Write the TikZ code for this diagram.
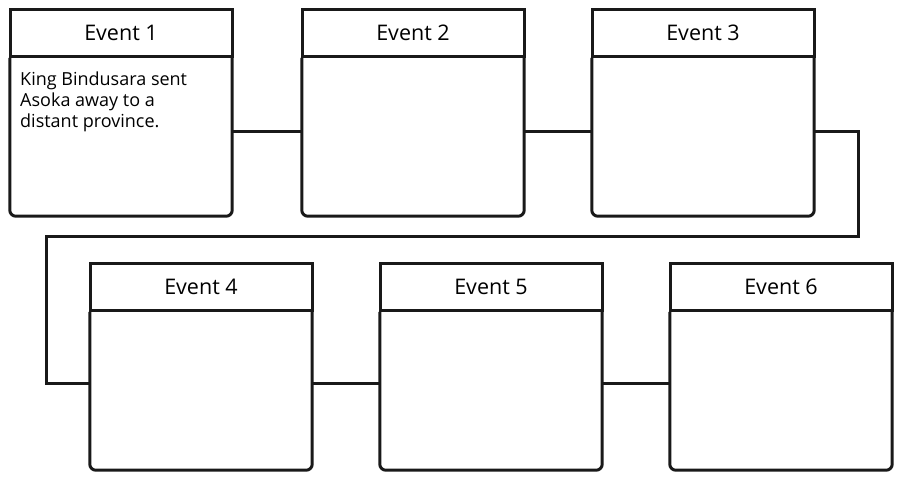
\documentclass[tikz,border=0pt]{standalone}
\usepackage{fontspec}
\setmainfont{Open Sans}
\begin{document}
\begin{tikzpicture}[x=1pt,y=1pt,
  ln/.style={line width=3pt,draw=black!90},
  hdr/.style={ln,minimum width=222pt,minimum height=47pt,inner sep=0pt,font=\fontsize{21.5}{25}\selectfont},
  bodyn/.style={minimum width=222pt,minimum height=158pt,inner sep=0pt,draw=none},
  conn/.style={ln,line join=miter}]
\useasboundingbox (0,0) rectangle (900,480);
% row 1
\node[bodyn] (e1) at (121,343) {};
\node[bodyn] (e2) at (413,343) {};
\node[bodyn] (e3) at (703,343) {};
% row 2
\node[bodyn] (e4) at (201,89) {};
\node[bodyn] (e5) at (491,89) {};
\node[bodyn] (e6) at (781,89) {};
\foreach \n in {1,...,6}{
  \draw[ln,line join=round] (e\n.north west) -- ([yshift=6pt]e\n.south west)
     arc[start angle=180,end angle=270,radius=6pt]
     -- ([xshift=-6pt]e\n.south east)
     arc[start angle=270,end angle=360,radius=6pt]
     -- (e\n.north east);
}
\node[hdr,anchor=south] (h1) at (e1.north) {Event 1};
\node[hdr,anchor=south] (h2) at (e2.north) {Event 2};
\node[hdr,anchor=south] (h3) at (e3.north) {Event 3};
\node[hdr,anchor=south] (h4) at (e4.north) {Event 4};
\node[hdr,anchor=south] (h5) at (e5.north) {Event 5};
\node[hdr,anchor=south] (h6) at (e6.north) {Event 6};
\node[anchor=north west,align=left,inner sep=0pt,
  font=\fontsize{18}{21}\selectfont] (t1) at (20,408)
  {King Bindusara sent\\Asoka away to a\\distant province.};
% connectors
\coordinate (c1) at (858,348);
\coordinate (c2) at (858,243);
\coordinate (c3) at (46,243);
\coordinate (c4) at (46,97);
\draw[conn] (e1.east |- c1) -- (e2.west |- c1);
\draw[conn] (e2.east |- c1) -- (e3.west |- c1);
\draw[conn] (e3.east |- c1) -- (c1) -- (c2) -- (c3) -- (c4) -- (e4.west |- c4);
\draw[conn] (e4.east |- c4) -- (e5.west |- c4);
\draw[conn] (e5.east |- c4) -- (e6.west |- c4);
\end{tikzpicture}
\end{document}
